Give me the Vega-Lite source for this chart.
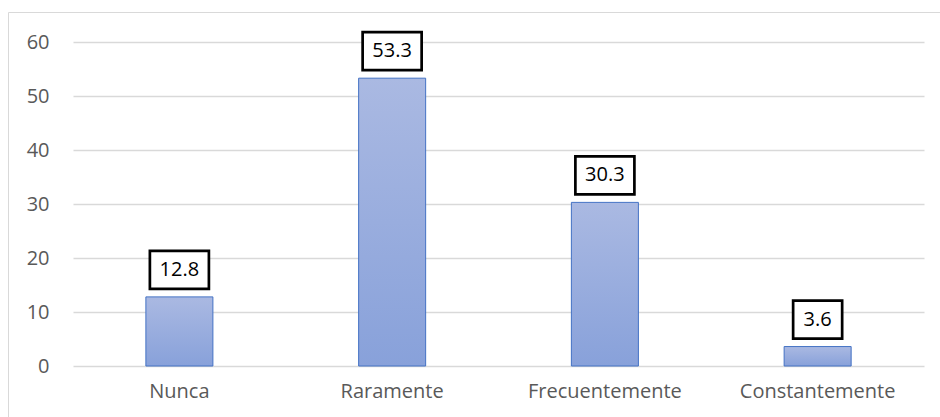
{
  "$schema": "https://vega.github.io/schema/vega-lite/v6.json",
  "autosize": "none",
  "padding": {"left": 8, "top": 12, "right": 0, "bottom": 0},
  "width": 935,
  "height": 410,
  "background": "white",
  "config": {
    "view": {"stroke": "#D9D9D9", "strokeWidth": 1},
    "font": "Open Sans"
  },
  "data": {
    "values": [
      {"respuesta": "Nunca", "pct": 12.8},
      {"respuesta": "Raramente", "pct": 53.3},
      {"respuesta": "Frecuentemente", "pct": 30.3},
      {"respuesta": "Constantemente", "pct": 3.6}
    ]
  },
  "encoding": {
    "x": {
      "field": "respuesta",
      "type": "nominal",
      "sort": null,
      "scale": {"paddingInner": 0, "paddingOuter": 0.1974, "align": 0.774},
      "axis": {
        "title": null,
        "orient": "bottom",
        "offset": -56,
        "domain": false,
        "ticks": false,
        "grid": false,
        "labelAngle": 0,
        "labelBaseline": "alphabetic",
        "labelPadding": 31,
        "labelFont": "Open Sans",
        "labelFontSize": 20,
        "labelColor": "#595959"
      }
    }
  },
  "layer": [
    {
      "mark": {
        "type": "bar",
        "width": {"band": 0.315},
        "stroke": "#4472C4",
        "strokeWidth": 1,
        "color": {
          "gradient": "linear",
          "x1": 0, "y1": 0, "x2": 0, "y2": 1,
          "stops": [
            {"offset": 0, "color": "#AAB9E2"},
            {"offset": 1, "color": "#88A1DA"}
          ]
        }
      },
      "encoding": {
        "y": {
          "field": "pct",
          "type": "quantitative",
          "scale": {"domain": [-10.37, 65.556], "nice": false, "zero": false},
          "axis": {
            "title": null,
            "orient": "left",
            "offset": -65,
            "values": [0, 10, 20, 30, 40, 50, 60],
            "domain": false,
            "grid": false,
            "ticks": true,
            "tickSize": -851,
            "tickColor": "#D9D9D9",
            "tickWidth": 1.3,
            "labelPadding": 875,
            "labelFont": "Open Sans",
            "labelFontSize": 20,
            "labelColor": "#595959"
          }
        },
        "y2": {"datum": 0}
      }
    },
    {
      "mark": {
        "type": "point",
        "size": 1444,
        "filled": true,
        "fill": "white",
        "stroke": "black",
        "strokeWidth": 2.7,
        "opacity": 1,
        "yOffset": -27
      },
      "encoding": {
        "y": {"field": "pct", "type": "quantitative"},
        "shape": {
          "condition": {"test": "datum.pct < 10", "value": "M-1.29,-1H1.29V1H-1.29Z"},
          "value": "M-1.553,-1H1.553V1H-1.553Z"
        }
      }
    },
    {
      "mark": {
        "type": "text",
        "font": "Open Sans",
        "fontSize": 20,
        "color": "black",
        "baseline": "middle",
        "align": "center",
        "yOffset": -27
      },
      "encoding": {
        "y": {"field": "pct", "type": "quantitative"},
        "text": {"field": "pct", "type": "quantitative", "format": ".1f"}
      }
    }
  ]
}
